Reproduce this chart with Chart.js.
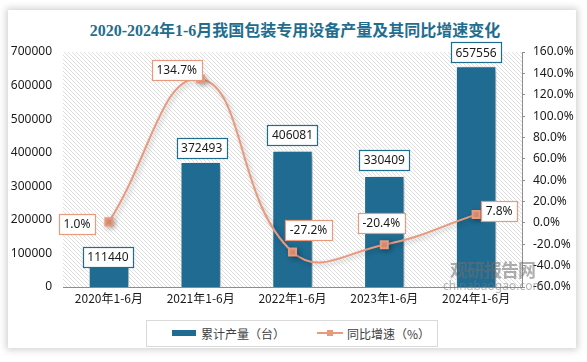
<!DOCTYPE html>
<html>
<head>
<meta charset="utf-8">
<script src="https://cdn.jsdelivr.net/npm/chart.js@4/dist/chart.umd.min.js"></script>
<style>
  html, body { margin: 0; padding: 0; background: #ffffff; }
  #wrap { position: relative; width: 587px; height: 362px; overflow: hidden; }
  #card { position: absolute; left: 8px; top: 10px; width: 568px; height: 338px; background: #fff;
          box-shadow: 0 0 7px 2px rgba(0,0,0,0.18); }
  #title { position: absolute; left: 0; top: 21px; width: 590px; text-align: center;
           font: bold 16px "Liberation Serif", "Noto Sans CJK SC", serif; color: #1f6e8f; line-height: 20px; }
  #c { position: absolute; left: 0; top: 0; }
  #legend { position: absolute; left: 146px; top: 320px; width: 290px; height: 25px;
            border: 1px solid #d9d9d9; background: #fff; font: 12px "Noto Sans CJK SC", sans-serif; color: #404040; }
  .lg { position: absolute; top: 4px; line-height: 17px; }
  #wm1 { position: absolute; left: 450px; top: 259px; font: bold 18px "Noto Sans CJK SC", sans-serif;
         color: rgba(110,110,110,0.55); letter-spacing: -1px; line-height: 20px; }
  #wm2 { position: absolute; left: 443px; top: 279px; font: 12px "Noto Sans", sans-serif;
         color: rgba(120,120,120,0.55); line-height: 14px; }
</style>
</head>
<body>
<div id="wrap">
  <div id="card"></div>
  <div id="title">2020-2024年1-6月我国包装专用设备产量及其同比增速变化</div>
  <canvas id="c" width="587" height="362"></canvas>
  <div id="wm1">观研报告网</div>
  <div id="wm2">chinabaogao.com</div>
  <div id="legend">
    <div style="position:absolute;left:25px;top:9px;width:24px;height:6px;background:#1f6b91;"></div>
    <div class="lg" style="left:54px;">累计产量（台）</div>
    <div style="position:absolute;left:170px;top:11px;width:26px;height:2px;background:#e9997c;"></div>
    <div style="position:absolute;left:180px;top:9px;width:6px;height:6px;background:#e9997c;"></div>
    <div class="lg" style="left:200px;">同比增速（%）</div>
  </div>
</div>
<script>
const categories = ["2020年1-6月", "2021年1-6月", "2022年1-6月", "2023年1-6月", "2024年1-6月"];
const output = [111440, 372493, 406081, 330409, 657556];
const growth = [1.0, 134.7, -27.2, -20.4, 7.8];
const leftTicks = [0, 100000, 200000, 300000, 400000, 500000, 600000, 700000];
const rightTicks = [-60, -40, -20, 0, 20, 40, 60, 80, 100, 120, 140, 160];

const BAR = '#1f6b91';
const LINE = '#e9997c';

function hatchPattern(ctx) {
  const p = document.createElement('canvas');
  p.width = 4; p.height = 4;
  const g = p.getContext('2d');
  g.strokeStyle = '#dedede';
  g.lineWidth = 1;
  g.beginPath();
  g.moveTo(0, 0); g.lineTo(4, 4);
  g.moveTo(-1, 3); g.lineTo(1, 5);
  g.moveTo(3, -1); g.lineTo(5, 1);
  g.stroke();
  return ctx.createPattern(p, 'repeat');
}

const bgPlugin = {
  id: 'bg',
  beforeDraw(chart) {
    const { ctx, chartArea: a } = chart;
    ctx.save();
    ctx.fillStyle = hatchPattern(ctx);
    ctx.fillRect(a.left, a.top, a.right - a.left, a.bottom - a.top);
    ctx.restore();
  }
};

const shadowPlugin = {
  id: 'shadow',
  beforeDatasetDraw(chart, args) {
    const ctx = chart.ctx;
    ctx.save();
    if (args.index === 0) {
      ctx.shadowColor = 'rgba(0,0,0,0.35)';
      ctx.shadowBlur = 7;
      ctx.shadowOffsetX = 4;
      ctx.shadowOffsetY = 2;
    } else {
      ctx.shadowColor = 'rgba(0,0,0,0.25)';
      ctx.shadowBlur = 5;
      ctx.shadowOffsetX = 2;
      ctx.shadowOffsetY = 2;
    }
  },
  afterDatasetDraw(chart) { chart.ctx.restore(); }
};

const barOffsets = [[-1, 7], [1, -14], [0, -16], [0, -16], [0, -14]];
const lineOffsets = [[-32, 2], [-24, -9], [16, -22], [-3, -22], [23, -4]];

const labelPlugin = {
  id: 'boxLabels',
  afterDatasetsDraw(chart) {
    const ctx = chart.ctx;
    ctx.save();
    ctx.font = '12px "Noto Sans", sans-serif';
    ctx.textAlign = 'center';
    ctx.textBaseline = 'middle';
    const draw = (text, cx, cy, border) => {
      const w = ctx.measureText(text).width + 9;
      const h = 20;
      ctx.fillStyle = '#fff';
      ctx.fillRect(Math.round(cx - w / 2) + 0.5, Math.round(cy - h / 2) + 0.5, Math.round(w), h);
      ctx.strokeStyle = border;
      ctx.lineWidth = 1.2;
      ctx.strokeRect(Math.round(cx - w / 2) + 0.5, Math.round(cy - h / 2) + 0.5, Math.round(w), h);
      ctx.fillStyle = '#1a1a1a';
      ctx.fillText(text, cx, cy + 1);
    };
    const bm = chart.getDatasetMeta(0);
    bm.data.forEach((el, i) => {
      draw(String(output[i]), el.x + barOffsets[i][0], el.y + barOffsets[i][1], '#1f6e8f');
    });
    const lm = chart.getDatasetMeta(1);
    lm.data.forEach((el, i) => {
      draw(growth[i].toFixed(1) + '%', el.x + lineOffsets[i][0], el.y + lineOffsets[i][1], LINE);
    });
    ctx.restore();
  }
};

new Chart(document.getElementById('c'), {
  data: {
    labels: categories,
    datasets: [
      {
        type: 'bar', label: '累计产量（台）', data: output, yAxisID: 'y',
        backgroundColor: BAR, borderColor: '#ffffff', borderWidth: 1,
        barPercentage: 0.44, categoryPercentage: 1.0, order: 2
      },
      {
        type: 'line', label: '同比增速（%）', data: growth, yAxisID: 'y1',
        borderColor: LINE, backgroundColor: LINE, borderWidth: 2,
        pointStyle: 'rect', pointRadius: 5, pointHoverRadius: 5,
        pointBackgroundColor: LINE, pointBorderColor: LINE,
        tension: 0.45, order: 1
      }
    ]
  },
  options: {
    responsive: false,
    animation: false,
    events: [],
    layout: { padding: { top: 52, left: 0, right: 0, bottom: 0 } },
    plugins: { legend: { display: false }, tooltip: { enabled: false }, title: { display: false } },
    scales: {
      x: {
        grid: { display: false, drawTicks: false },
        border: { display: true, color: '#8c8c8c', width: 1 },
        ticks: { font: { family: '"Noto Sans CJK SC", sans-serif', size: 12 }, color: '#1a1a1a', padding: 4 },
        afterFit(s) { s.height = 75; }
      },
      y: {
        position: 'left', min: 0, max: 700000,
        afterBuildTicks(s) { s.ticks = leftTicks.map(v => ({ value: v })); },
        grid: { display: false, drawTicks: false },
        border: { display: false },
        ticks: { font: { family: '"Noto Sans", sans-serif', size: 12 }, color: '#1a1a1a', padding: 11,
                 callback: v => String(v) },
        afterFit(s) { s.width = 63; }
      },
      y1: {
        position: 'right', min: -60, max: 160,
        afterBuildTicks(s) { s.ticks = rightTicks.map(v => ({ value: v })); },
        grid: { drawOnChartArea: false, drawTicks: true, tickLength: 3, color: '#8c8c8c' },
        border: { display: true, color: '#8c8c8c', width: 1 },
        ticks: { font: { family: '"Noto Sans", sans-serif', size: 12 }, color: '#1a1a1a', padding: 8,
                 callback: v => Number(v).toFixed(1) + '%' },
        afterFit(s) { s.width = 65; }
      }
    }
  },
  plugins: [bgPlugin, shadowPlugin, labelPlugin]
});
</script>
</body>
</html>
